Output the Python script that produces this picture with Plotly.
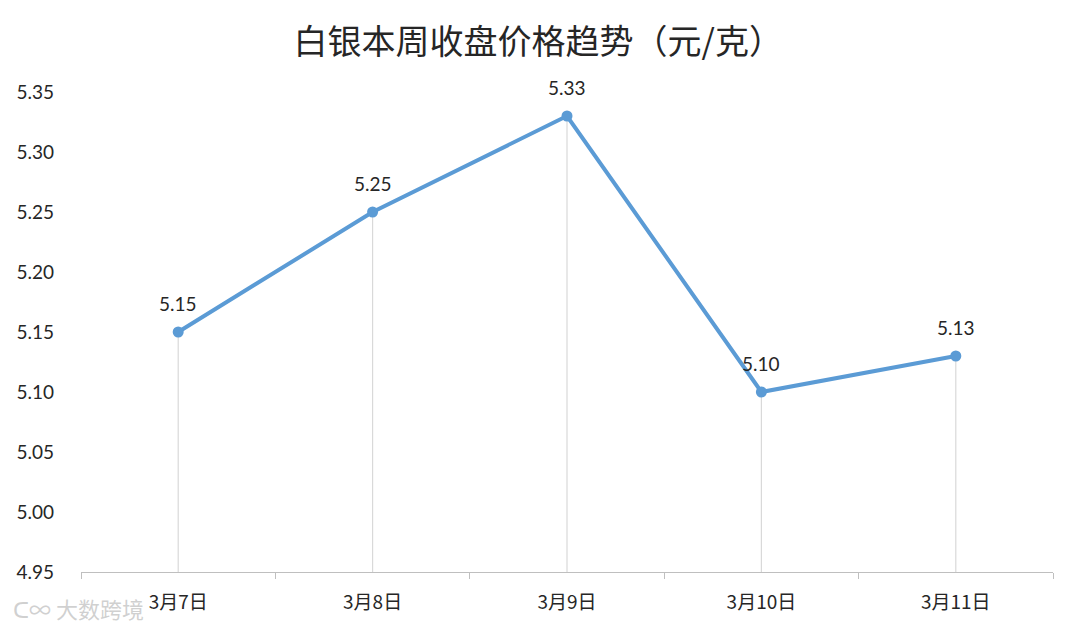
import plotly.graph_objects as go

categories = ["3月7日", "3月8日", "3月9日", "3月10日", "3月11日"]
prices = [5.15, 5.25, 5.33, 5.10, 5.13]
y_ticks = [4.95, 5.00, 5.05, 5.10, 5.15, 5.20, 5.25, 5.30, 5.35]
y_min, y_max = 4.95, 5.35
title = "白银本周收盘价格趋势（元/克）"

num_font = "Lato, 'Noto Sans CJK SC', sans-serif"
cjk_font = "'Noto Sans CJK SC', sans-serif"

fig = go.Figure()

# drop lines from each point to the axis
dx, dy = [], []
for c, v in zip(categories, prices):
    dx += [c, c, None]
    dy += [y_min, v, None]
fig.add_trace(go.Scatter(x=dx, y=dy, mode="lines",
                         line=dict(color="#d9d9d9", width=1.2),
                         hoverinfo="skip", showlegend=False))

fig.add_trace(go.Scatter(x=categories, y=prices, mode="lines+markers",
                         line=dict(color="#5b9bd5", width=4),
                         marker=dict(color="#5b9bd5", size=11),
                         showlegend=False))

for c, v in zip(categories, prices):
    fig.add_annotation(x=c, y=v, text=f"{v:.2f}", showarrow=False,
                       yshift=29, font=dict(family=num_font, size=19, color="#262626"))

# watermark
fig.add_annotation(xref="paper", yref="paper", x=-0.072, y=-0.075, xanchor="left", yanchor="middle",
                   text="ᑕ∞ 大数跨境", showarrow=False,
                   font=dict(family=cjk_font, size=22, color="rgba(200,200,200,0.85)"))

fig.update_layout(
    width=1080, height=631,
    paper_bgcolor="white", plot_bgcolor="white",
    margin=dict(l=73, r=35, t=84, b=67, autoexpand=False),
    title=dict(text=title, x=0.491, xref="container", xanchor="center", y=0.946, yanchor="middle",
               font=dict(family=cjk_font, size=34, color="#262626")),
    xaxis=dict(type="category", range=[-0.5, len(categories) - 0.5],
               showgrid=False, showline=True, linecolor="#bfbfbf", linewidth=1,
               ticks="outside", tickson="boundaries", ticklen=6, tickcolor="#bfbfbf",
               ticklabelstandoff=13,
               tickfont=dict(family=cjk_font, size=19, color="#262626"),
               zeroline=False, fixedrange=True),
    yaxis=dict(range=[y_min, y_max], tickvals=y_ticks,
               ticktext=[f"{t:.2f}" for t in y_ticks],
               showgrid=False, showline=False, zeroline=False,
               ticks="", ticklabelstandoff=26,
               tickfont=dict(family=num_font, size=19, color="#262626")),
)

fig.write_html("out.html")
